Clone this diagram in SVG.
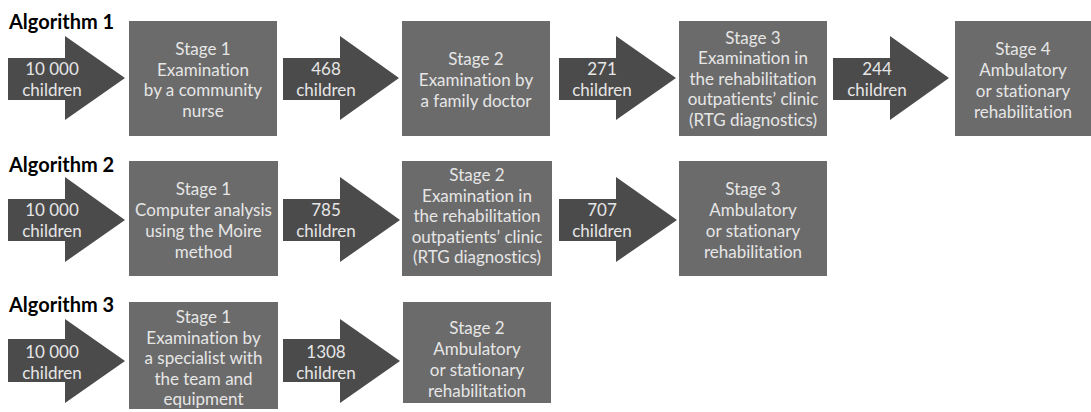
<svg xmlns="http://www.w3.org/2000/svg" width="1091" height="412" viewBox="0 0 1091 412">
<style>
.box{fill:#6b6b6b}
.arr{fill:#4b4b4b}
.t{font-family:Lato,"Open Sans",sans-serif;font-size:17px;fill:#e6e6e6;text-anchor:middle;font-variant-ligatures:none;font-feature-settings:"liga" 0}
.h{font-family:Lato,"Open Sans",sans-serif;font-size:20px;font-weight:bold;fill:#000}
</style>
<rect width="1091" height="412" fill="#fff"/>
<g id="titles">
<text class="h" x="9" y="29">Algorithm 1</text>
<text class="h" x="9" y="172">Algorithm 2</text>
<text class="h" x="9" y="312">Algorithm 3</text>
</g>
<g id="connectors">
<g id="a1-1"><polygon class="arr" points="8,58 65,58 65,36 125,78 65,120 65,100 8,100"/><text class="t" x="52" y="75">10 000</text><text class="t" x="52" y="96">children</text></g>
<g id="a1-2"><polygon class="arr" points="283,58 340,58 340,36 399,78 340,120 340,100 283,100"/><text class="t" x="326" y="75">468</text><text class="t" x="326" y="96">children</text></g>
<g id="a1-3"><polygon class="arr" points="559,58 616,58 616,36 676,78 616,120 616,100 559,100"/><text class="t" x="602" y="75">271</text><text class="t" x="602" y="96">children</text></g>
<g id="a1-4"><polygon class="arr" points="833,58 890,58 890,36 949,78 890,120 890,100 833,100"/><text class="t" x="877" y="75">244</text><text class="t" x="877" y="96">children</text></g>
<g id="a2-1"><polygon class="arr" points="8,199 65,199 65,177 125,220 65,262 65,241 8,241"/><text class="t" x="52" y="216">10 000</text><text class="t" x="52" y="237">children</text></g>
<g id="a2-2"><polygon class="arr" points="283,199 340,199 340,177 400,220 340,262 340,241 283,241"/><text class="t" x="326" y="216">785</text><text class="t" x="326" y="237">children</text></g>
<g id="a2-3"><polygon class="arr" points="559,199 616,199 616,177 677,220 616,262 616,241 559,241"/><text class="t" x="602" y="216">707</text><text class="t" x="602" y="237">children</text></g>
<g id="a3-1"><polygon class="arr" points="8,339 65,339 65,319 125,361 65,403 65,382 8,382"/><text class="t" x="52" y="358">10 000</text><text class="t" x="52" y="379">children</text></g>
<g id="a3-2"><polygon class="arr" points="283,339 340,339 340,319 400,361 340,403 340,382 283,382"/><text class="t" x="326" y="358">1308</text><text class="t" x="326" y="379">children</text></g>
</g>
<g id="n1-1"><rect class="box" x="129" y="21" width="148" height="115"/>
<text class="t" x="203" y="55">Stage 1</text><text class="t" x="203" y="75.5">Examination</text><text class="t" x="203" y="96">by a community</text><text class="t" x="203" y="116.5">nurse</text></g>
<g id="n1-2"><rect class="box" x="402" y="21" width="148" height="115"/>
<text class="t" x="476" y="65">Stage 2</text><text class="t" x="476" y="86">Examination by</text><text class="t" x="476" y="107">a family doctor</text></g>
<g id="n1-3"><rect class="box" x="679" y="21" width="148" height="115"/>
<text class="t" x="753" y="43.5">Stage 3</text><text class="t" x="753" y="64">Examination in</text><text class="t" x="753" y="84.5">the rehabilitation</text><text class="t" x="753" y="105">outpatients’ clinic</text><text class="t" x="753" y="125.5">(RTG diagnostics)</text></g>
<g id="n1-4"><rect class="box" x="955" y="21" width="136" height="115"/>
<text class="t" x="1023" y="55">Stage 4</text><text class="t" x="1023" y="76">Ambulatory</text><text class="t" x="1023" y="97">or stationary</text><text class="t" x="1023" y="118">rehabilitation</text></g>
<g id="n2-1"><rect class="box" x="129" y="161" width="149" height="115"/>
<text class="t" x="203.5" y="195">Stage 1</text><text class="t" x="203.5" y="216">Computer analysis</text><text class="t" x="203.5" y="237">using the Moire</text><text class="t" x="203.5" y="258">method</text></g>
<g id="n2-2"><rect class="box" x="402" y="161" width="150" height="115"/>
<text class="t" x="477" y="181">Stage 2</text><text class="t" x="477" y="201.5">Examination in</text><text class="t" x="477" y="222">the rehabilitation</text><text class="t" x="477" y="242.5">outpatients’ clinic</text><text class="t" x="477" y="263">(RTG diagnostics)</text></g>
<g id="n2-3"><rect class="box" x="679" y="161" width="148" height="115"/>
<text class="t" x="753" y="195">Stage 3</text><text class="t" x="753" y="216">Ambulatory</text><text class="t" x="753" y="237">or stationary</text><text class="t" x="753" y="258">rehabilitation</text></g>
<g id="n3-1"><rect class="box" x="129" y="302" width="149" height="107"/>
<text class="t" x="203.5" y="323">Stage 1</text><text class="t" x="203.5" y="343.5">Examination by</text><text class="t" x="203.5" y="364">a specialist with</text><text class="t" x="203.5" y="384.5">the team and</text><text class="t" x="203.5" y="405">equipment</text></g>
<g id="n3-2"><rect class="box" x="403" y="302" width="148" height="101"/>
<text class="t" x="477" y="334">Stage 2</text><text class="t" x="477" y="355">Ambulatory</text><text class="t" x="477" y="376">or stationary</text><text class="t" x="477" y="397">rehabilitation</text></g>
</svg>
